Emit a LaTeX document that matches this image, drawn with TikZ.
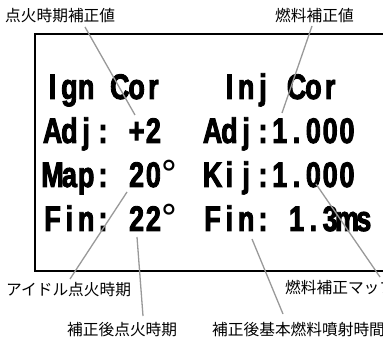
\documentclass[tikz,border=0pt]{standalone}
\usepackage{fontspec}
\newfontfamily\jp{Noto Sans CJK JP}
\newfontfamily\lcd[FakeStretch=0.76,FakeBold=2.5]{Liberation Sans}
\newfontfamily\lcddeg{DejaVu Sans}
\ExplSyntaxOn
\NewDocumentCommand\lcdline{m}{\str_map_inline:nn {#1}
  {\str_if_eq:nnTF {##1} {°}
    {\makebox[16.8pt][l]{\hspace{-1.5pt}{\lcddeg\mdseries ##1}}}
    {\makebox[16.8pt][c]{##1}}}}
\ExplSyntaxOff
\begin{document}
\begin{tikzpicture}[x=1pt,y=-1pt,
  lcdtext/.style={anchor=base west, inner sep=0pt, font=\lcd\bfseries\fontsize{35.5}{35.5}\selectfont},
  lbl/.style={anchor=west, inner sep=0pt, font=\jp\fontsize{15.7}{15.7}\selectfont},
  leader/.style={draw=black!40, line width=1.3pt},
  frame/.style={draw=black, line width=1.2pt}]
\useasboundingbox (0,0) rectangle (383,339);
\clip (0,0) rectangle (383,339);
% LCD frame
\draw[frame] (35,34) rectangle (430,271);
% LCD text
\node[lcdtext] (l1) at (44,99) {\lcdline{Ign Cor}};
\node[lcdtext] (r1) at (220.8,99) {\lcdline{Inj Cor}};
\node[lcdtext] (l2) at (44,143) {\lcdline{Adj: +2}};
\node[lcdtext] (r2) at (204,143) {\lcdline{Adj:1.000}};
\node[lcdtext] (l3) at (44,187) {\lcdline{Map: 20°}};
\node[lcdtext] (r3) at (204,187) {\lcdline{Kij:1.000}};
\node[lcdtext] (l4) at (44,231) {\lcdline{Fin: 22°}};
\node[lcdtext] (r4) at (204,231) {\lcdline{Fin: 1.3ms}};
% labels
\node[lbl] (a) at (5,16) {点火時期補正値};
\node[lbl] (b) at (275,16) {燃料補正値};
\node[lbl] (c) at (6,290) {アイドル点火時期};
\node[lbl] (d) at (285,288) {燃料補正マップ};
\node[lbl] (e) at (67,330) {補正後点火時期};
\node[lbl] (f) at (212,330) {補正後基本燃料噴射時間};
% leader ends
\coordinate (a1) at (85,27);   \coordinate (a2) at (135,115);
\coordinate (b1) at (312,26);  \coordinate (b2) at (282,113);
\coordinate (c1) at (70,279);  \coordinate (c2) at (127,192);
\coordinate (d1) at (380,277); \coordinate (d2) at (316,184);
\coordinate (e1) at (143,316); \coordinate (e2) at (137,237);
\coordinate (f1) at (283,314); \coordinate (f2) at (252,239);
\draw[leader] (a1) -- (a2);
\draw[leader] (b1) -- (b2);
\draw[leader] (c1) -- (c2);
\draw[leader] (d1) -- (d2);
\draw[leader] (e1) -- (e2);
\draw[leader] (f1) -- (f2);
\end{tikzpicture}
\end{document}
